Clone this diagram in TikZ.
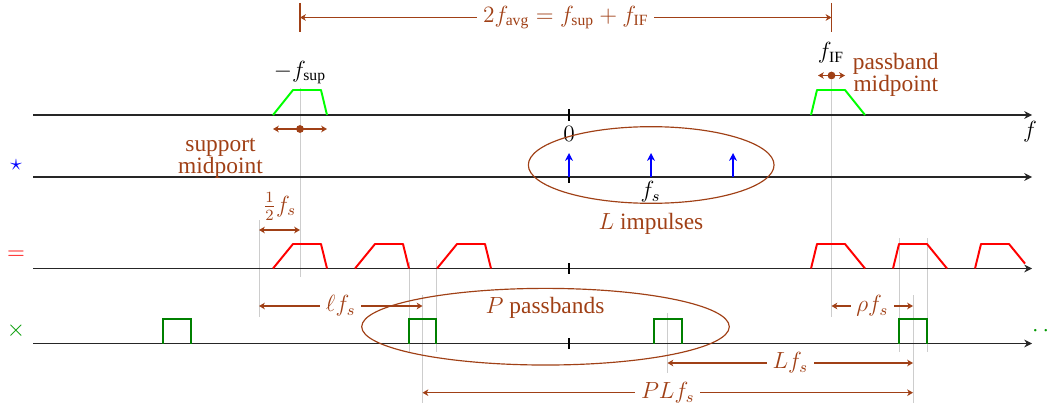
\documentclass[tikz,border=0pt]{standalone}
\usepackage{amsmath}
\usepackage[no-math]{fontspec}
\setmainfont{Liberation Serif}
\usetikzlibrary{arrows.meta,shapes.geometric}
\definecolor{annot}{RGB}{160,64,22}
\definecolor{guidegray}{RGB}{205,205,205}
\begin{document}
\begin{tikzpicture}[x=0.5128pt,y=-0.5128pt,
  font=\fontsize{12}{11.3}\selectfont,
  axisline/.style={draw=black!85, line width=0.75pt, -{Stealth[length=4pt,width=4pt,inset=1.3pt]}},
  zerotick/.style={draw=black, line width=0.75pt},
  guide/.style={draw=guidegray, line width=0.5pt},
  supportshape/.style={draw=green, line width=1pt, line join=round},
  replica/.style={draw=red, line width=1pt, line join=round},
  passbox/.style={draw=green!50!black, line width=1pt},
  impulse/.style={draw=blue, line width=1.1pt, -{Stealth[length=4pt,width=4pt,inset=1.2pt]}},
  dim/.style={draw=annot, line width=0.6pt, {Stealth[length=3pt,width=3.4pt,inset=0.9pt]}-{Stealth[length=3pt,width=3.4pt,inset=0.9pt]}},
  dimlabel/.style={fill=white, text=annot, inner sep=3pt},
  note/.style={text=annot, inner sep=0pt, align=center},
  bubble/.style={draw=annot, line width=0.6pt, ellipse, inner sep=0pt},
  endbar/.style={draw=annot, line width=0.6pt}]
\useasboundingbox (0,0) rectangle (1052,407);

% guide lines
\draw[guide] (300,88) -- (300,277);
\draw[guide] (831.5,80) -- (831.5,317);
\draw[guide] (259,220) -- (259,317);
\draw[guide] (409,262) -- (409,352);
\draw[guide] (436,260) -- (436,352);
\draw[guide] (899,238) -- (899,352);
\draw[guide] (927,238) -- (927,352);
\draw[guide] (422.5,295) -- (422.5,403);
\draw[guide] (913,295) -- (913,403);
\draw[guide] (667.5,313) -- (667.5,373);

% axes
\foreach \n/\yy in {a/115,b/177,c/268.5,d/343.5}{
  \coordinate (\n0) at (33,\yy);
  \coordinate (\n1) at (1032,\yy);
  \draw[axisline] (\n0) -- (\n1);
}
\foreach \yy in {115,268.5,343.5} \draw[zerotick] (569,\yy-5.5) -- (569,\yy+5.5);
\draw[zerotick] (569,171) -- (569,183);

% impulses
\foreach \xx in {569,651,733} \draw[impulse] (\xx,177) -- (\xx,153);

% signal spectrum
\draw[supportshape] (273,115) -- (293,90) -- (321,90) -- (327,115);
\draw[supportshape] (811,115) -- (817,90) -- (845,90) -- (865,115);

% replicas
\foreach \xx in {273,355,437} \draw[replica] (\xx,268.5) -- ++(20,-24.5) -- ++(28,0) -- ++(6,24.5);
\foreach \xx in {811,893} \draw[replica] (\xx,268.5) -- ++(6,-24.5) -- ++(28,0) -- ++(20,24.5);
\draw[replica] (975,268.5) -- ++(6,-24.5) -- ++(28,0) -- (1025,263.6);

% passbands
\foreach \xx in {177,422.5,668,913} \draw[passbox] (\xx-13.75,343.5) -- (\xx-13.75,319) -- (\xx+13.75,319) -- (\xx+13.75,343.5);

% row operators
\node[text=blue] (conv) at (16,165) {$\star$};
\node[text=red] (eq) at (16,255) {$=$};
\node[text=green!60!black] (mult) at (16,331) {$\times$};
\node[text=green!60!black, anchor=base west, inner sep=0pt] (more) at (1031.8,336.5) {$\cdots$};

% axis labels
\node (zero) at (569,133.5) {$0$};
\node (faxis) at (1030,131.5) {$f$};
\node (fs) at (650.5,192) {$f_s$};
\node (fsup) at (300,72.5) {$-f_{\text{sup}}$};
\node (fif) at (831,53) {$f_{\text{IF}}$};

% top dimension
\coordinate (avgL) at (300,17.5);
\coordinate (avgR) at (831.5,17.5);
\draw[endbar] (300,3) -- (300,32);
\draw[endbar] (831.5,3) -- (831.5,32);
\draw[dim] (avgL) -- node[dimlabel]{$2f_{\text{avg}} = f_{\text{sup}} + f_{\text{IF}}$} (avgR);

% support midpoint
\coordinate (supL) at (273,129);
\coordinate (supR) at (327,129);
\coordinate (supM) at (300,129);
\draw[dim] (supL) -- (supR);
\fill[annot] (supM) circle (2pt);
\node[note, anchor=north] (supnote) at (220.5,138) {support\\midpoint};

% passband midpoint
\coordinate (pbL) at (818,75.5);
\coordinate (pbR) at (845,75.5);
\coordinate (pbM) at (831.5,75.5);
\draw[dim] (pbL) -- (pbR);
\fill[annot] (pbM) circle (2pt);
\node[note, anchor=north west] (pbnote) at (852.5,53) {passband\\midpoint};

% half fs
\coordinate (hL) at (259,230);
\coordinate (hR) at (300,230);
\draw[dim] (hL) -- (hR);
\node[text=annot, inner sep=0pt] (half) at (279.5,206.5) {$\frac{1}{2}f_s$};

% ell fs
\coordinate (ellL) at (259,306);
\coordinate (ellR) at (422.5,306);
\draw[dim] (ellL) -- node[dimlabel]{$\ell f_s$} (ellR);

% rho fs
\coordinate (rhoL) at (831.5,306);
\coordinate (rhoR) at (913,306);
\draw[dim] (rhoL) -- node[dimlabel]{$\rho f_s$} (rhoR);

% L fs
\coordinate (LfL) at (667.5,363);
\coordinate (LfR) at (913,363);
\draw[dim] (LfL) -- node[dimlabel]{$L f_s$} (LfR);

% PL fs
\coordinate (PLL) at (422.5,392.7);
\coordinate (PLR) at (913,392.7);
\draw[dim] (PLL) -- node[dimlabel]{$P L f_s$} (PLR);

% ellipses
\node[bubble, minimum width=126pt, minimum height=39.3pt] (Lbub) at (651.2,165) {};
\node[note] (Llab) at (651,224) {$L$ impulses};
\node[bubble, minimum width=188.5pt, minimum height=39.3pt] (Pbub) at (545.5,326.7) {};
\node[note] (Plab) at (545,307.5) {$P$ passbands};
\end{tikzpicture}
\end{document}
